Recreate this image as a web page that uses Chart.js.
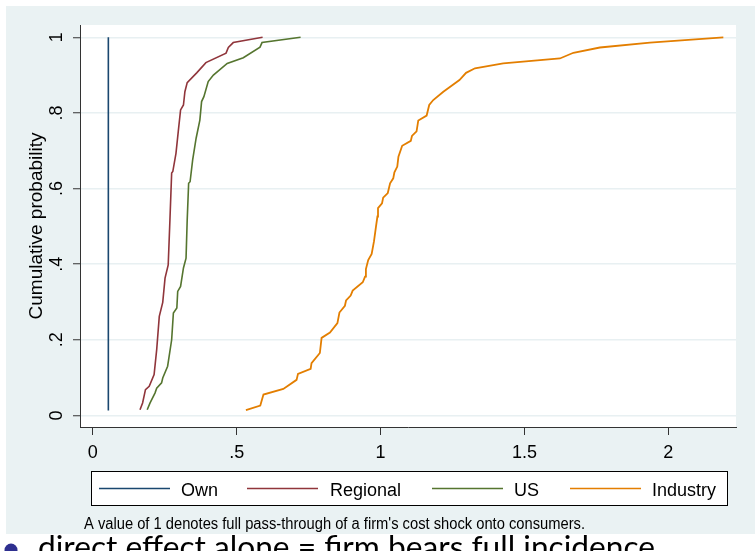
<!DOCTYPE html>
<html>
<head>
<meta charset="utf-8">
<script src="https://cdn.jsdelivr.net/npm/chart.js@4.4.1/dist/chart.umd.min.js"></script>
<style>
  html, body { margin: 0; padding: 0; background: #ffffff; }
  #wrap { width: 755px; height: 551px; position: relative; }
</style>
</head>
<body>
<div id="wrap"><canvas id="c" width="755" height="551"></canvas></div>
<script>
// ---- data ----
const seriesNames = ["Own", "Regional", "US", "Industry"];
const seriesColors = ["#1a476f", "#90353b", "#55752f", "#e37e00"];

const ownX = [0.054, 0.054];
const ownY = [0.013, 1.0];

const regionalX = [0.164, 0.173, 0.183, 0.196, 0.213, 0.222, 0.231, 0.243, 0.251, 0.262, 0.268, 0.274, 0.278, 0.289, 0.297, 0.305, 0.315, 0.320, 0.328, 0.361, 0.393, 0.463, 0.471, 0.488, 0.590];
const regionalY = [0.015, 0.033, 0.068, 0.077, 0.108, 0.174, 0.262, 0.299, 0.363, 0.398, 0.517, 0.641, 0.645, 0.693, 0.751, 0.808, 0.821, 0.856, 0.880, 0.906, 0.933, 0.958, 0.973, 0.986, 1.0];

const usX = [0.189, 0.199, 0.216, 0.222, 0.239, 0.243, 0.260, 0.274, 0.280, 0.292, 0.295, 0.305, 0.315, 0.324, 0.328, 0.333, 0.338, 0.347, 0.359, 0.372, 0.378, 0.386, 0.401, 0.419, 0.467, 0.523, 0.581, 0.588, 0.722];
const usY = [0.015, 0.033, 0.059, 0.072, 0.086, 0.099, 0.130, 0.200, 0.271, 0.284, 0.328, 0.341, 0.390, 0.416, 0.517, 0.614, 0.618, 0.676, 0.733, 0.781, 0.830, 0.843, 0.883, 0.900, 0.931, 0.946, 0.974, 0.986, 1.0];

const industryX = [0.532, 0.582, 0.593, 0.662, 0.708, 0.713, 0.757, 0.760, 0.789, 0.795, 0.824, 0.850, 0.857, 0.876, 0.880, 0.896, 0.903, 0.938, 0.946, 0.949, 0.957, 0.969, 0.977, 0.984, 0.989, 0.991, 1.005, 1.009, 1.025, 1.033, 1.044, 1.048, 1.058, 1.062, 1.075, 1.105, 1.109, 1.125, 1.131, 1.160, 1.169, 1.183, 1.218, 1.274, 1.297, 1.328, 1.426, 1.623, 1.670, 1.762, 1.936, 2.191];
const industryY = [0.014, 0.026, 0.055, 0.070, 0.094, 0.110, 0.123, 0.138, 0.165, 0.205, 0.219, 0.244, 0.272, 0.290, 0.304, 0.317, 0.330, 0.352, 0.367, 0.387, 0.411, 0.427, 0.460, 0.499, 0.526, 0.548, 0.561, 0.576, 0.588, 0.614, 0.627, 0.643, 0.658, 0.684, 0.713, 0.726, 0.739, 0.751, 0.780, 0.793, 0.821, 0.834, 0.856, 0.887, 0.906, 0.918, 0.931, 0.944, 0.959, 0.973, 0.986, 1.0];

const xTicks = [0, 0.5, 1, 1.5, 2];
const xTickLabels = ["0", ".5", "1", "1.5", "2"];
const yTicks = [0, 0.2, 0.4, 0.6, 0.8, 1];
const yTickLabels = ["0", ".2", ".4", ".6", ".8", "1"];

const yTitle = "Cumulative probability";
const caption = "A value of 1 denotes full pass-through of a firm's cost shock onto consumers.";
const slideText = "direct effect alone = firm bears full incidence";

// ---- build ----
function pts(xs, ys) { return xs.map((x, i) => ({ x: x, y: ys[i] })); }
const allX = [ownX, regionalX, usX, industryX];
const allY = [ownY, regionalY, usY, industryY];

const datasets = seriesNames.map((n, i) => ({
  label: n,
  data: pts(allX[i], allY[i]),
  showLine: true,
  borderColor: seriesColors[i],
  backgroundColor: seriesColors[i],
  borderWidth: i === 3 ? 1.8 : 1.6,
  pointRadius: 0,
  tension: 0
}));

const FONT = "'Liberation Sans', Arial, sans-serif";

const bgPlugin = {
  id: 'bg',
  beforeDraw(chart) {
    const ctx = chart.ctx, a = chart.chartArea;
    ctx.save();
    ctx.fillStyle = '#ffffff';
    ctx.fillRect(0, 0, chart.width, chart.height);
    ctx.fillStyle = '#eaf2f3';
    ctx.fillRect(6, 6, chart.width - 6, 528);
    ctx.fillStyle = '#ffffff';
    ctx.fillRect(a.left, a.top, a.right - a.left, a.bottom - a.top);
    ctx.restore();
  },
  afterDraw(chart) {
    const ctx = chart.ctx;
    ctx.save();
    // legend box
    ctx.fillStyle = '#ffffff';
    ctx.fillRect(91, 471, 637, 35);
    ctx.strokeStyle = '#000000';
    ctx.lineWidth = 1;
    ctx.strokeRect(91.5, 471.5, 636, 34);
    const lineX = [99, 247, 432, 570];
    const textX = [181, 330, 514, 652];
    ctx.font = "18px " + FONT;
    ctx.textBaseline = 'alphabetic';
    ctx.textAlign = 'left';
    chart.data.datasets.forEach((ds, i) => {
      ctx.strokeStyle = ds.borderColor;
      ctx.lineWidth = 1.6;
      ctx.beginPath();
      ctx.moveTo(lineX[i], 488.5);
      ctx.lineTo(lineX[i] + 71, 488.5);
      ctx.stroke();
      ctx.fillStyle = '#000000';
      ctx.fillText(ds.label, textX[i], 496);
    });
    // caption (condensed)
    ctx.font = "16px 'Liberation Sans Narrow', 'Arial Narrow', " + FONT;
    const w = ctx.measureText(caption).width;
    ctx.save();
    ctx.translate(84, 528.5);
    ctx.scale(501 / w, 1);
    ctx.fillStyle = '#000000';
    ctx.fillText(caption, 0, 0);
    ctx.restore();
    // slide text at bottom (cut off)
    ctx.fillStyle = '#2e2f8f';
    ctx.beginPath();
    ctx.arc(11, 550, 6.5, 0, Math.PI * 2);
    ctx.fill();
    ctx.font = "30px Lato, 'Noto Sans', sans-serif";
    const w2 = ctx.measureText(slideText).width;
    ctx.save();
    ctx.translate(38, 558);
    ctx.scale(617 / w2, 1);
    ctx.fillStyle = '#000000';
    ctx.fillText(slideText, 0, 0);
    ctx.restore();
    ctx.restore();
  }
};

new Chart(document.getElementById('c'), {
  type: 'scatter',
  data: { datasets: datasets },
  options: {
    responsive: false,
    animation: false,
    devicePixelRatio: 1,
    layout: { padding: { top: 25, right: 19, left: 0, bottom: 0 } },
    plugins: { legend: { display: false }, title: { display: false }, tooltip: { enabled: false } },
    scales: {
      x: {
        type: 'linear',
        min: -0.0445, max: 2.235,
        afterFit(s) { s.height = 124; },
        afterBuildTicks(s) { s.ticks = xTicks.map(v => ({ value: v })); },
        ticks: {
          font: { size: 18, family: FONT }, color: '#000000', padding: 7,
          maxRotation: 0, minRotation: 0,
          callback(v) { const i = xTicks.indexOf(v); return i >= 0 ? xTickLabels[i] : ''; }
        },
        grid: { display: true, drawOnChartArea: false, drawTicks: true, tickLength: 8, tickColor: '#333333', tickWidth: 1 },
        border: { display: true, color: '#333333', width: 1 }
      },
      y: {
        type: 'linear',
        min: -0.0307, max: 1.0325,
        afterFit(s) { s.width = 80; },
        afterBuildTicks(s) { s.ticks = yTicks.map(v => ({ value: v })); },
        ticks: {
          font: { size: 18, family: FONT }, color: '#000000', padding: 8,
          minRotation: 90, maxRotation: 90, crossAlign: 'center',
          callback(v) { const i = yTicks.indexOf(v); return i >= 0 ? yTickLabels[i] : ''; }
        },
        title: { display: true, text: yTitle, font: { size: 19, family: FONT }, color: '#000000', padding: { top: 25, bottom: 0 } },
        grid: { display: true, drawOnChartArea: true, color: '#e8f0f2', lineWidth: 1.5, drawTicks: true, tickLength: 7, tickColor: '#333333', tickWidth: 1 },
        border: { display: true, color: '#333333', width: 1 }
      }
    }
  },
  plugins: [bgPlugin]
});
</script>
</body>
</html>
